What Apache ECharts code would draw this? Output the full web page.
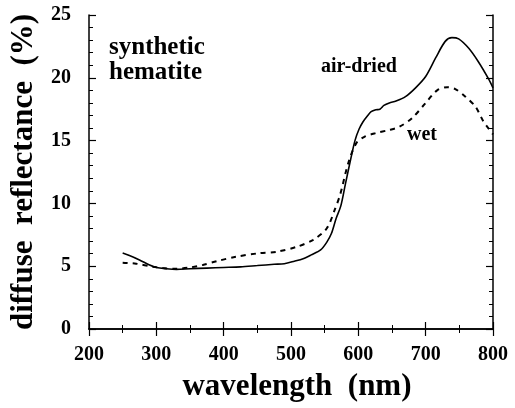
<!DOCTYPE html>
<html>
<head>
<meta charset="utf-8">
<script src="https://cdn.jsdelivr.net/npm/echarts@6/dist/echarts.min.js"></script>
<style>
  html, body { margin: 0; padding: 0; background: #fff; }
  #chart { width: 515px; height: 408px; }
</style>
</head>
<body>
<div id="chart"></div>
<script>
// ---- data ----
const airDriedWavelength = [250,260,275,290,300,315,330,350,375,400,425,450,475,490,505,518,530,544,553,560,567,574,581,589,595,601,607,614,619,626,632,638,646,656,670,685,700,715,729,739,749,764,778,793,800];
const airDriedReflectance = [6.05,5.85,5.5,5.1,4.9,4.8,4.75,4.8,4.85,4.9,4.95,5.05,5.15,5.2,5.4,5.6,5.9,6.3,6.9,7.6,8.8,9.8,11.6,13.6,15.0,15.9,16.5,17.0,17.3,17.45,17.5,17.8,18.0,18.15,18.5,19.2,20.1,21.6,22.9,23.2,23.1,22.35,21.3,19.95,19.2];

const wetWavelength = [250,270,295,310,330,350,369,390,418,452,479,509,533,553,565,573,585,597,609,626,646,661,680,700,717,732,744,759,774,786,793,800];
const wetReflectance = [5.28,5.2,4.96,4.85,4.8,4.9,5.1,5.4,5.75,6.03,6.15,6.55,7.1,8.0,9.5,10.7,13.2,14.8,15.3,15.6,15.85,16.1,16.8,18.0,19.0,19.25,19.1,18.5,17.7,16.5,16.0,15.5];

const xTicks = { min: 200, max: 800, step: 100 };
const yTicks = { min: 0, max: 25, step: 5 };
const seriesNames = ['air-dried', 'wet'];
const xTitle = 'wavelength  (nm)';
const yTitle = 'diffuse  reflectance  (%)';
const sampleLabel = ['synthetic', 'hematite'];

// ---- chart ----
const FONT = '"Liberation Serif", "Times New Roman", serif';
const chart = echarts.init(document.getElementById('chart'), null, { renderer: 'canvas' });

const pair = (xs, ys) => xs.map((x, i) => [x, ys[i]]);

const axisLine = { show: true, lineStyle: { color: '#000', width: 1.5 } };
const tickStyle = { show: true, inside: true, length: 7, lineStyle: { color: '#000', width: 1.2 } };
const minorStyle = { show: true, length: 4, lineStyle: { color: '#000', width: 1 } };
const labelStyle = { color: '#000', fontFamily: FONT, fontWeight: 'bold', fontSize: 20 };

chart.setOption({
  animation: false,
  backgroundColor: '#fff',
  grid: { left: 85, right: 22, top: 15, bottom: 79, containLabel: false },
  xAxis: [
    {
      type: 'value', position: 'bottom',
      min: xTicks.min, max: xTicks.max, interval: xTicks.step,
      axisLine, axisTick: tickStyle,
      minorTick: Object.assign({ splitNumber: 2 }, minorStyle),
      splitLine: { show: false },
      axisLabel: Object.assign({ margin: 16 }, labelStyle),
      name: xTitle, nameLocation: 'middle', nameGap: 42,
      nameTextStyle: { color: '#000', fontFamily: FONT, fontWeight: 'bold', fontSize: 31, padding: [0, 0, 0, 12] }
    },
    {
      type: 'value', position: 'top',
      min: xTicks.min, max: xTicks.max, interval: xTicks.step,
      axisLine, axisTick: tickStyle,
      minorTick: Object.assign({ splitNumber: 2 }, minorStyle),
      splitLine: { show: false }, axisLabel: { show: false }
    }
  ],
  yAxis: [
    {
      type: 'value', position: 'left',
      min: yTicks.min, max: yTicks.max, interval: yTicks.step,
      axisLine, axisTick: tickStyle,
      minorTick: Object.assign({ splitNumber: 5 }, minorStyle),
      splitLine: { show: false },
      axisLabel: Object.assign({ margin: 18 }, labelStyle),
      name: yTitle, nameLocation: 'middle', nameGap: 50,
      nameTextStyle: { color: '#000', fontFamily: FONT, fontWeight: 'bold', fontSize: 31 }
    },
    {
      type: 'value', position: 'right',
      min: yTicks.min, max: yTicks.max, interval: yTicks.step,
      axisLine, axisTick: tickStyle,
      minorTick: Object.assign({ splitNumber: 5 }, minorStyle),
      splitLine: { show: false }, axisLabel: { show: false }
    }
  ],
  series: [
    {
      name: seriesNames[0], type: 'line', xAxisIndex: 0, yAxisIndex: 0,
      data: pair(airDriedWavelength, airDriedReflectance),
      smooth: 0.3, showSymbol: false, symbol: 'none',
      lineStyle: { color: '#000', width: 1.6, type: 'solid' }
    },
    {
      name: seriesNames[1], type: 'line', xAxisIndex: 0, yAxisIndex: 0,
      data: pair(wetWavelength, wetReflectance),
      smooth: 0.3, showSymbol: false, symbol: 'none',
      lineStyle: { color: '#000', width: 2, type: [5, 5] }
    }
  ],
  graphic: [
    { type: 'text', left: 109, top: 35,
      style: { text: sampleLabel.join('\n'), fill: '#000', font: 'bold 25px ' + FONT, lineHeight: 25, textAlign: 'left' } },
    { type: 'text', left: 321, top: 57,
      style: { text: seriesNames[0], fill: '#000', font: 'bold 20px ' + FONT } },
    { type: 'text', left: 407, top: 125,
      style: { text: seriesNames[1], fill: '#000', font: 'bold 20px ' + FONT } }
  ]
});
</script>
</body>
</html>
